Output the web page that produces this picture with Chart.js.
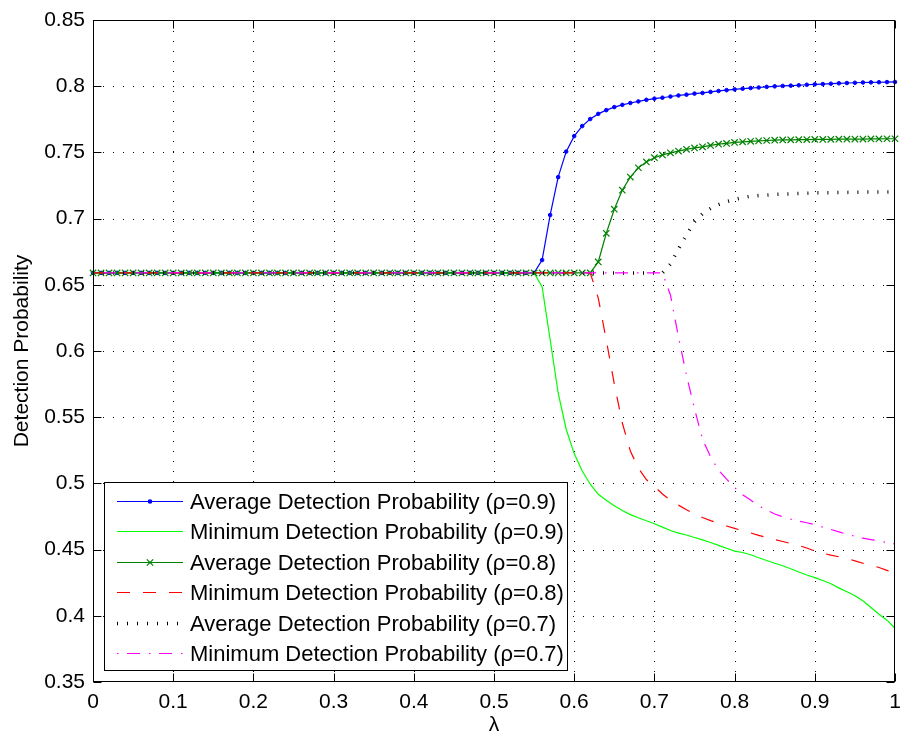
<!DOCTYPE html>
<html>
<head>
<meta charset="utf-8">
<title>Detection Probability vs λ</title>
<script src="https://cdn.jsdelivr.net/npm/chart.js@4.4.1/dist/chart.umd.min.js"></script>
<style>
  html, body { margin: 0; padding: 0; background: #fff; }
  canvas { display: block; }
</style>
</head>
<body>
<canvas id="myChart" width="901" height="738"></canvas>
<script>
// lambda sweep, 0 .. 1 in steps of 0.01
const lambda = [
  0, 0.01, 0.02, 0.03, 0.04, 0.05, 0.06, 0.07, 0.08, 0.09,
  0.1, 0.11, 0.12, 0.13, 0.14, 0.15, 0.16, 0.17, 0.18, 0.19,
  0.2, 0.21, 0.22, 0.23, 0.24, 0.25, 0.26, 0.27, 0.28, 0.29,
  0.3, 0.31, 0.32, 0.33, 0.34, 0.35, 0.36, 0.37, 0.38, 0.39,
  0.4, 0.41, 0.42, 0.43, 0.44, 0.45, 0.46, 0.47, 0.48, 0.49,
  0.5, 0.51, 0.52, 0.53, 0.54, 0.55, 0.56, 0.57, 0.58, 0.59,
  0.6, 0.61, 0.62, 0.63, 0.64, 0.65, 0.66, 0.67, 0.68, 0.69,
  0.7, 0.71, 0.72, 0.73, 0.74, 0.75, 0.76, 0.77, 0.78, 0.79,
  0.8, 0.81, 0.82, 0.83, 0.84, 0.85, 0.86, 0.87, 0.88, 0.89,
  0.9, 0.91, 0.92, 0.93, 0.94, 0.95, 0.96, 0.97, 0.98, 0.99, 1
];

// common level for lambda = 0 .. 0.55 (all curves coincide here)
const plateau = [
  0.659, 0.659, 0.659, 0.659, 0.659, 0.659, 0.659, 0.659,
  0.659, 0.659, 0.659, 0.659, 0.659, 0.659, 0.659, 0.659,
  0.659, 0.659, 0.659, 0.659, 0.659, 0.659, 0.659, 0.659,
  0.659, 0.659, 0.659, 0.659, 0.659, 0.659, 0.659, 0.659,
  0.659, 0.659, 0.659, 0.659, 0.659, 0.659, 0.659, 0.659,
  0.659, 0.659, 0.659, 0.659, 0.659, 0.659, 0.659, 0.659,
  0.659, 0.659, 0.659, 0.659, 0.659, 0.659, 0.659, 0.659
];

// rho = 0.9, lambda 0.56 .. 1
const avg09 = plateau.concat([
  0.6687, 0.7027, 0.7313, 0.7506, 0.7623, 0.7699, 0.7752, 0.7791, 0.7819,
  0.7842, 0.7859, 0.7873, 0.7885, 0.7897, 0.7906, 0.7913, 0.7922, 0.7930,
  0.7936, 0.7944, 0.7949, 0.7957, 0.7964, 0.7970, 0.7976, 0.7981, 0.7986,
  0.7990, 0.7995, 0.7999, 0.8002, 0.8004, 0.8007, 0.8011, 0.8014, 0.8016,
  0.8019, 0.8022, 0.8024, 0.8026, 0.8028, 0.8029, 0.8030, 0.8031, 0.8032
]);
const min09 = plateau.concat([
  0.6484, 0.6087, 0.5683, 0.5409, 0.5225, 0.5094, 0.4994, 0.4918, 0.4872,
  0.4832, 0.4795, 0.4764, 0.4741, 0.4718, 0.4695, 0.4670, 0.4644, 0.4625,
  0.4610, 0.4591, 0.4573, 0.4554, 0.4532, 0.4510, 0.4489, 0.4478, 0.4461,
  0.4438, 0.4418, 0.4397, 0.4378, 0.4355, 0.4331, 0.4308, 0.4288, 0.4267,
  0.4242, 0.4211, 0.4181, 0.4151, 0.4114, 0.4063, 0.4012, 0.3967, 0.3906
]);

// rho = 0.8, lambda 0.56 .. 1
const avg08 = plateau.concat([
  0.659, 0.659, 0.659, 0.659, 0.659, 0.659, 0.659,
  0.6673, 0.6889, 0.7071, 0.7215, 0.7314, 0.7384, 0.7428, 0.7460, 0.7481,
  0.7497, 0.7510, 0.7523, 0.7534, 0.7542, 0.7553, 0.7562, 0.7568, 0.7575,
  0.7580, 0.7584, 0.7587, 0.7590, 0.7592, 0.7594, 0.7595, 0.7596, 0.7597,
  0.7598, 0.7598, 0.7599, 0.7600, 0.7600, 0.7601, 0.7601, 0.7602, 0.7602,
  0.7603, 0.7603
]);
const min08 = plateau.concat([
  0.659, 0.659, 0.659, 0.659, 0.659, 0.659, 0.659,
  0.6400, 0.6083, 0.5751, 0.5456, 0.5245, 0.5115, 0.5029, 0.4977, 0.4920,
  0.4872, 0.4836, 0.4801, 0.4769, 0.4742, 0.4719, 0.4698, 0.4678, 0.4660,
  0.4643, 0.4626, 0.4608, 0.4591, 0.4576, 0.4561, 0.4546, 0.4531, 0.4512,
  0.4489, 0.4473, 0.4458, 0.4446, 0.4434, 0.4415, 0.4397, 0.4382, 0.4365,
  0.4343, 0.4321
]);

// rho = 0.7, lambda 0.56 .. 1
const avg07 = plateau.concat([
  0.659, 0.659, 0.659, 0.659, 0.659, 0.659, 0.659, 0.659,
  0.659, 0.659, 0.659, 0.659, 0.659, 0.659, 0.659, 0.659,
  0.6656, 0.6772, 0.6875, 0.6976, 0.7037, 0.7077, 0.7106, 0.7128, 0.7145,
  0.7158, 0.7169, 0.7174, 0.7178, 0.7182, 0.7185, 0.7187, 0.7189, 0.7192,
  0.7194, 0.7195, 0.7196, 0.7197, 0.7198, 0.7199, 0.7200, 0.7200, 0.7201,
  0.7201, 0.7202
]);
const min07 = plateau.concat([
  0.659, 0.659, 0.659, 0.659, 0.659, 0.659, 0.659, 0.659,
  0.659, 0.659, 0.659, 0.659, 0.659, 0.659, 0.659, 0.659,
  0.6423, 0.6106, 0.5817, 0.5564, 0.5333, 0.5201, 0.5099, 0.5032, 0.4969,
  0.4915, 0.4874, 0.4831, 0.4799, 0.4769, 0.4748, 0.4730, 0.4715, 0.4703,
  0.4688, 0.4670, 0.4652, 0.4634, 0.4616, 0.4601, 0.4586, 0.4576, 0.4565,
  0.4554, 0.4542
]);

const seriesNames = [
  "Average Detection Probability (ρ=0.9)",
  "Minimum Detection Probability (ρ=0.9)",
  "Average Detection Probability (ρ=0.8)",
  "Minimum Detection Probability (ρ=0.8)",
  "Average Detection Probability (ρ=0.7)",
  "Minimum Detection Probability (ρ=0.7)",
];

const xTicks = [0, 0.1, 0.2, 0.3, 0.4, 0.5, 0.6, 0.7, 0.8, 0.9, 1];
const yTicks = [0.35, 0.4, 0.45, 0.5, 0.55, 0.6, 0.65, 0.7, 0.75, 0.8, 0.85];

const FONT = "'Liberation Sans', Arial, Helvetica, sans-serif";

const toPoints = (ys) => lambda.map((l, i) => ({ x: l, y: ys[i] }));

// grid, axes box, inward ticks, titles and legend drawn in the MATLAB look
const matlabFrame = {
  id: "matlabFrame",
  beforeDatasetsDraw(chart) {
    const { ctx, chartArea: a, scales } = chart;
    ctx.save();
    ctx.strokeStyle = "#000";
    ctx.lineWidth = 1;
    ctx.setLineDash([1, 9]);
    xTicks.slice(1, -1).forEach((v) => {
      const px = Math.round(scales.x.getPixelForValue(v)) + 0.5;
      ctx.beginPath();
      ctx.moveTo(px, a.bottom);
      ctx.lineTo(px, a.top);
      ctx.stroke();
    });
    yTicks.slice(1, -1).forEach((v) => {
      const py = Math.round(scales.y.getPixelForValue(v)) + 0.5;
      ctx.beginPath();
      ctx.moveTo(a.left, py);
      ctx.lineTo(a.right, py);
      ctx.stroke();
    });
    ctx.restore();
  },
  afterDatasetsDraw(chart) {
    const { ctx, chartArea: a, scales } = chart;
    const L = Math.round(a.left) + 0.5;
    const R = Math.round(a.right) - 0.5;
    const T = Math.round(a.top) + 0.5;
    const B = Math.round(a.bottom) - 0.5;
    const tick = 8;

    ctx.save();
    ctx.strokeStyle = "#000";
    ctx.lineWidth = 1;
    ctx.setLineDash([]);
    ctx.strokeRect(L, T, R - L, B - T);

    ctx.beginPath();
    xTicks.forEach((v) => {
      const px = Math.round(scales.x.getPixelForValue(v)) + 0.5;
      ctx.moveTo(px, B); ctx.lineTo(px, B - tick);
      ctx.moveTo(px, T); ctx.lineTo(px, T + tick);
    });
    yTicks.forEach((v) => {
      const py = Math.round(scales.y.getPixelForValue(v)) + 0.5;
      ctx.moveTo(L, py); ctx.lineTo(L + tick, py);
      ctx.moveTo(R, py); ctx.lineTo(R - tick, py);
    });
    ctx.stroke();

    // axis titles
    ctx.fillStyle = "#000";
    ctx.font = "21px " + FONT;
    ctx.textAlign = "center";
    ctx.textBaseline = "middle";
    ctx.fillText("λ", (a.left + a.right) / 2, 725);
    ctx.save();
    ctx.translate(22, (a.top + a.bottom) / 2);
    ctx.rotate(-Math.PI / 2);
    ctx.fillText("Detection Probability", 0, 0);
    ctx.restore();

    drawLegend(chart);
    ctx.restore();
  },
};

function drawLegend(chart) {
  const ctx = chart.ctx;
  const box = { left: 104.5, top: 482.5, right: 567.5, bottom: 670.5 };
  const rowY0 = 501;
  const rowGap = 30.4;
  const lineX0 = 117;
  const lineX1 = 183;
  const textX = 190;

  ctx.save();
  ctx.fillStyle = "#fff";
  ctx.fillRect(box.left, box.top, box.right - box.left, box.bottom - box.top);
  ctx.strokeStyle = "#000";
  ctx.lineWidth = 1;
  ctx.setLineDash([]);
  ctx.strokeRect(box.left, box.top, box.right - box.left, box.bottom - box.top);

  chart.data.datasets.forEach((ds, i) => {
    const y = Math.round(rowY0 + i * rowGap) + 0.5;
    ctx.save();
    ctx.strokeStyle = ds.borderColor;
    ctx.lineWidth = ds.borderWidth;
    ctx.lineCap = "butt";
    ctx.setLineDash(ds.borderDash || []);
    ctx.beginPath();
    ctx.moveTo(lineX0, y);
    ctx.lineTo(lineX1, y);
    ctx.stroke();
    ctx.restore();

    const mx = (lineX0 + lineX1) / 2;
    if (ds.pointStyle === "circle" && ds.pointRadius > 0) {
      ctx.fillStyle = ds.pointBackgroundColor;
      ctx.beginPath();
      ctx.arc(mx, y, ds.pointRadius + 0.5, 0, Math.PI * 2);
      ctx.fill();
    } else if (ds.pointStyle === "crossRot" && ds.pointRadius > 0) {
      const r = ds.pointRadius * Math.SQRT1_2;
      ctx.strokeStyle = ds.pointBorderColor;
      ctx.lineWidth = ds.pointBorderWidth;
      ctx.beginPath();
      ctx.moveTo(mx - r, y - r); ctx.lineTo(mx + r, y + r);
      ctx.moveTo(mx - r, y + r); ctx.lineTo(mx + r, y - r);
      ctx.stroke();
    }

    ctx.fillStyle = "#000";
    ctx.font = "22px " + FONT;
    ctx.textAlign = "left";
    ctx.textBaseline = "middle";
    ctx.fillText(ds.label, textX, y + 1);
  });
  ctx.restore();
}

const ctx = document.getElementById("myChart").getContext("2d");
new Chart(ctx, {
  type: "line",
  data: {
    datasets: [
      {
        label: seriesNames[0],
        data: toPoints(avg09),
        borderColor: "#0000ff",
        borderWidth: 1.2,
        pointStyle: "circle",
        pointRadius: 1.8,
        pointBackgroundColor: "#0000ff",
        pointBorderColor: "#0000ff",
        pointBorderWidth: 1,
        order: 6,
      },
      {
        label: seriesNames[1],
        data: toPoints(min09),
        borderColor: "#00ff00",
        borderWidth: 1.2,
        pointRadius: 0,
        order: 5,
      },
      {
        label: seriesNames[2],
        data: toPoints(avg08),
        borderColor: "#008000",
        borderWidth: 1.2,
        pointStyle: "crossRot",
        pointRadius: 4.5,
        pointBorderColor: "#008000",
        pointBackgroundColor: "#008000",
        pointBorderWidth: 1.2,
        order: 4,
      },
      {
        label: seriesNames[3],
        data: toPoints(min08),
        borderColor: "#ff0000",
        borderWidth: 1.2,
        borderDash: [13, 13],
        pointRadius: 0,
        order: 3,
      },
      {
        label: seriesNames[4],
        data: toPoints(avg07),
        borderColor: "#000000",
        borderWidth: 3.5,
        borderDash: [1, 9],
        borderCapStyle: "butt",
        pointRadius: 0,
        order: 2,
      },
      {
        label: seriesNames[5],
        data: toPoints(min07),
        borderColor: "#ff00ff",
        borderWidth: 1.2,
        borderDash: [1.5, 8.5, 13, 9],
        pointRadius: 0,
        order: 1,
      },
    ],
  },
  options: {
    responsive: false,
    animation: false,
    events: [],
    devicePixelRatio: 1,
    layout: { padding: { top: 20, right: 6, left: 0, bottom: 0 } },
    elements: { line: { tension: 0 } },
    datasets: { line: { clip: false } },
    plugins: {
      legend: { display: false },
      tooltip: { enabled: false },
    },
    scales: {
      x: {
        type: "linear",
        min: 0,
        max: 1,
        afterFit: (scale) => {
          scale.height = 56;
          scale.paddingLeft = 0;
          scale.paddingRight = 0;
        },
        afterBuildTicks: (scale) => { scale.ticks = xTicks.map((v) => ({ value: v })); },
        grid: { display: false, drawTicks: false },
        border: { display: false },
        ticks: {
          padding: 8,
          color: "#000",
          font: { family: FONT, size: 21 },
          maxRotation: 0,
          autoSkip: false,
          callback: (v) => String(Number(v.toFixed(2))),
        },
      },
      y: {
        type: "linear",
        min: 0.35,
        max: 0.85,
        afterFit: (scale) => {
          scale.width = 93;
          scale.paddingTop = 0;
          scale.paddingBottom = 0;
        },
        afterBuildTicks: (scale) => { scale.ticks = yTicks.map((v) => ({ value: v })); },
        grid: { display: false, drawTicks: false },
        border: { display: false },
        ticks: {
          padding: 8,
          color: "#000",
          font: { family: FONT, size: 21 },
          autoSkip: false,
          callback: (v) => String(Number(v.toFixed(2))),
        },
      },
    },
  },
  plugins: [matlabFrame],
});
</script>
</body>
</html>
